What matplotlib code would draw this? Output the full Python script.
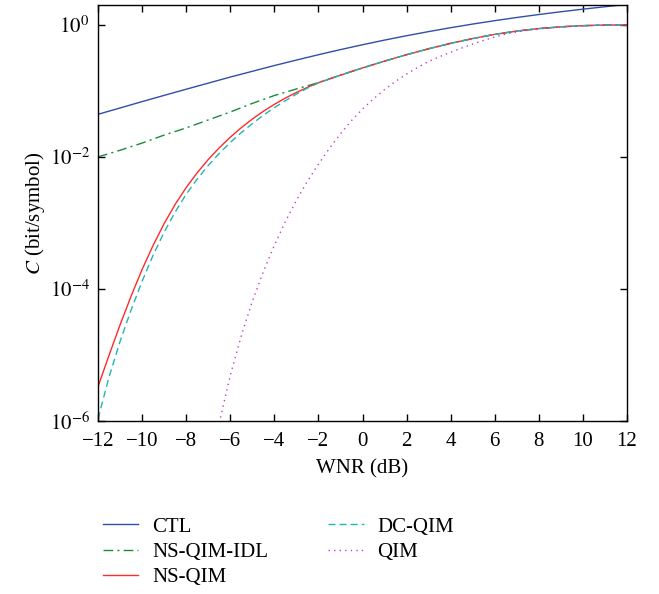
import numpy as np
import matplotlib
matplotlib.use("Agg")
import matplotlib.pyplot as plt
from matplotlib.ticker import FixedLocator, NullLocator

plt.rcParams['font.family'] = ['Liberation Serif', 'DejaVu Serif']
plt.rcParams['mathtext.fontset'] = 'stix'

# WNR (dB)
wnr_ctl = [-12, -11, -10, -9, -8, -7, -6, -5, -4, -3, -2, -1, 0, 1, 2, 3, 4, 5, 6, 7, 8, 9, 10, 11, 12]
ctl = [0.0442, 0.0551, 0.0688, 0.0855, 0.106, 0.131, 0.162, 0.198, 0.242, 0.293, 0.353, 0.422,
       0.500, 0.588, 0.685, 0.791, 0.906, 1.029, 1.158, 1.294, 1.435, 1.580, 1.730, 1.882, 2.037]

wnr_ns = [-12, -11.5, -11, -10.5, -10, -9.5, -9, -8.5, -8, -7.5, -7, -6.5, -6, -5.5, -5, -4.5, -4,
          -3.5, -3, -2.5, -2, -1, 0, 1, 2, 3, 4, 5, 6, 7, 8, 9, 10, 11, 12]
ns_qim = [3.31e-6, 9.89e-6, 2.85e-5, 7.76e-5, 1.97e-4, 4.57e-4, 9.77e-4, 1.91e-3, 3.43e-3, 5.75e-3,
          9.12e-3, 0.01374, 0.01986, 0.02773, 0.03741, 0.04909, 0.06252, 0.0778, 0.09462, 0.1132,
          0.1330, 0.1730, 0.2228, 0.2825, 0.3532, 0.4345, 0.5248, 0.6209, 0.7178, 0.8054, 0.8790,
          0.9354, 0.9727, 0.9931, 1.0]
dc_qim = [1.072e-6, 4.62e-6, 1.603e-5, 4.79e-5, 1.303e-4, 3.24e-4, 7.24e-4, 1.462e-3, 2.72e-3,
          4.62e-3, 7.41e-3, 0.0113, 0.01652, 0.02333, 0.03184, 0.04276, 0.05572, 0.07096, 0.08933,
          0.1102, 0.1318, 0.1730, 0.2228, 0.2825, 0.3532, 0.4345, 0.5248, 0.6209, 0.7178, 0.8054,
          0.8790, 0.9354, 0.9727, 0.9931, 1.0]

wnr_idl = [-12, -11, -10, -9, -8, -7, -6, -5, -4, -3, -2, -1, 0, 1, 2, 3, 4, 5, 6, 7, 8, 9, 10, 11, 12]
ns_qim_idl = [0.0100, 0.0126, 0.0162, 0.0214, 0.0275, 0.0363, 0.0479, 0.0646, 0.0851, 0.107, 0.1335,
              0.1730, 0.2228, 0.2825, 0.3532, 0.4345, 0.5248, 0.6209, 0.7178, 0.8054, 0.8790,
              0.9354, 0.9727, 0.9931, 1.0]

wnr_qim = [-6.5, -6, -5.5, -5, -4.5, -4, -3.5, -3, -2.5, -2, -1.5, -1, -0.5, 0, 0.5, 1, 1.5, 2, 2.5,
           3, 3.5, 4, 4.5, 5, 5.5, 6, 6.5, 7, 7.5, 8, 9, 10, 11, 12]
qim = [9.33e-7, 4.90e-6, 1.95e-5, 6.46e-5, 1.82e-4, 4.57e-4, 1.047e-3, 2.19e-3, 4.27e-3, 7.76e-3,
       0.01349, 0.02239, 0.03548, 0.05309, 0.07586, 0.1047, 0.1396, 0.1799, 0.2265, 0.2786, 0.3296,
       0.3846, 0.4467, 0.5129, 0.5821, 0.6561, 0.7244, 0.782, 0.835, 0.868, 0.928, 0.971, 0.993, 1.0]

x_ticks = [-12, -10, -8, -6, -4, -2, 0, 2, 4, 6, 8, 10, 12]
y_ticks = [1e-6, 1e-4, 1e-2, 1e0]
y_tick_labels = [r'$10^{-6}$', r'$10^{-4}$', r'$10^{-2}$', r'$10^{0}$']

fs = 15
fig = plt.figure(figsize=(6.59, 5.94), dpi=100)
ax = fig.add_axes([98/659, 1 - 421/594, (627 - 98)/659, (421 - 5)/594])

lw = 1.0
ax.plot(wnr_ctl, ctl, color='#2f4fa8', lw=lw, label='CTL')
ax.plot(wnr_idl, ns_qim_idl, color='#1b8a3c', lw=lw, linestyle=(0, (7, 3, 1.5, 3)), label='NS-QIM-IDL')
ax.plot(wnr_ns, ns_qim, color='#ff2a2a', lw=lw, label='NS-QIM')
ax.plot(wnr_ns, dc_qim, color='#22b5b5', lw=lw, linestyle=(0, (5, 3)), label='DC-QIM')
ax.plot(wnr_qim, qim, color='#c040c0', lw=lw, linestyle=(0, (1, 3)), label='QIM')

ax.set_yscale('log')
ax.set_xlim(-12, 12)
ax.set_ylim(1e-6, 2.0)
ax.xaxis.set_major_locator(FixedLocator(x_ticks))
ax.set_xticklabels([('\u2212' + str(abs(t))) if t < 0 else str(t) for t in x_ticks])
ax.yaxis.set_major_locator(FixedLocator(y_ticks))
ax.yaxis.set_minor_locator(NullLocator())
ax.set_yticklabels(y_tick_labels)
ax.tick_params(direction='in', length=5, width=1.0, top=True, right=True, labelsize=fs, pad=5)
ax.tick_params(axis='x', pad=8)
ax.tick_params(axis='y', pad=6)
for s in ax.spines.values():
    s.set_linewidth(1.0)

ax.set_xlabel('WNR (dB)', fontsize=fs, labelpad=6)
ax.set_ylabel(r'$C$ (bit/symbol)', fontsize=fs, labelpad=2)

leg = fig.legend(loc='upper left', ncol=2, frameon=False, fontsize=fs,
                 handlelength=1.7, handletextpad=0.65, columnspacing=2.9,
                 labelspacing=0.27, borderpad=0.0, borderaxespad=0.0,
                 bbox_to_anchor=(103/659, 1 - 517/594), bbox_transform=fig.transFigure)

fig.savefig('out.png', dpi=100)
